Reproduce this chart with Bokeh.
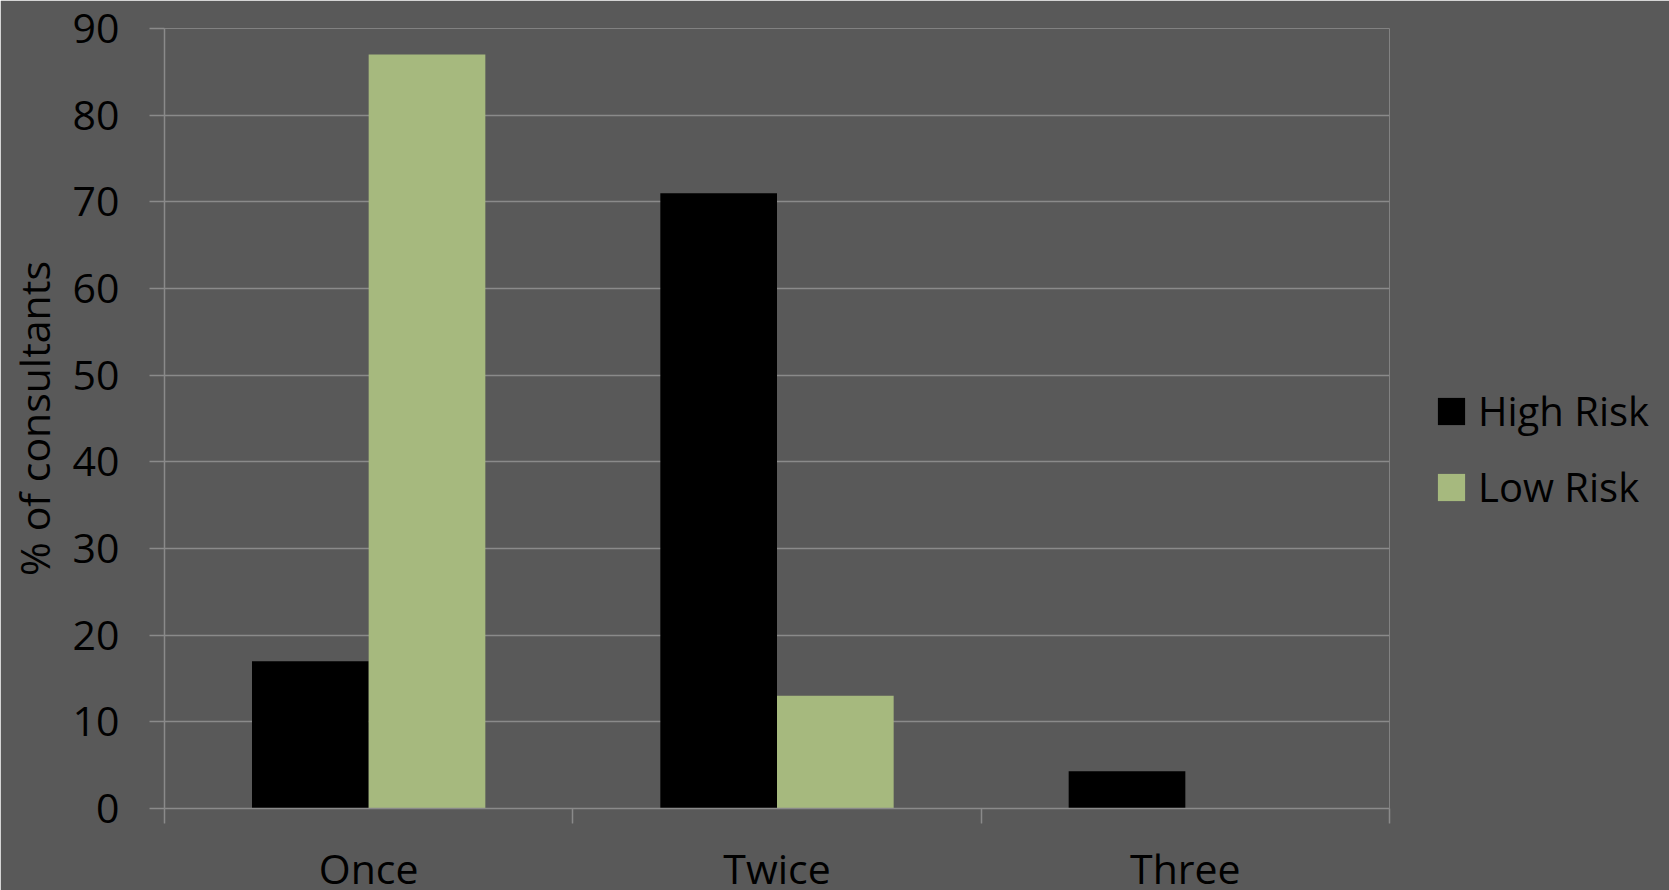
from bokeh.plotting import figure
from bokeh.models import FixedTicker, Legend, LegendItem, ColumnDataSource
from bokeh.embed import file_html
from bokeh.resources import INLINE

# Survey data: how often consultants were seen, by risk group (% of consultants)
categories = ["Once", "Twice", "Three"]
high_risk = [17, 71, 4.3]
low_risk = [87, 13, 0]
y_ticks = [0, 10, 20, 30, 40, 50, 60, 70, 80, 90]

BG = "#595959"
GRID = "#8a8a8a"
GREEN = "#a6b97e"
FONT = "Open Sans"

# each category occupies one unit; two bars with a 150% gap
bar_w = 1 / 3.5
centers = [i + 0.5 for i in range(len(categories))]

src_high = ColumnDataSource(dict(x=[c - bar_w / 2 for c in centers], top=high_risk))
src_low = ColumnDataSource(dict(x=[c + bar_w / 2 for c in centers], top=low_risk))

p = figure(
    frame_width=1225, frame_height=780,
    x_range=(0, len(categories)), y_range=(0, 90),
    output_backend="svg", toolbar_location=None,
    background_fill_color=BG, border_fill_color=BG,
    min_border_left=164, min_border_right=280,
    min_border_top=28, min_border_bottom=82,
)
p.outline_line_color = None

r_high = p.vbar(x="x", top="top", width=bar_w, bottom=0, source=src_high,
                fill_color="black", line_color=None)
r_low = p.vbar(x="x", top="top", width=bar_w, bottom=0, source=src_low,
               fill_color=GREEN, line_color=None)

# y axis
p.yaxis.ticker = FixedTicker(ticks=y_ticks)
p.yaxis.axis_line_color = GRID
p.yaxis.axis_line_width = 1.5
p.yaxis.major_tick_line_color = GRID
p.yaxis.major_tick_line_width = 1.5
p.yaxis.major_tick_out = 15
p.yaxis.major_tick_in = 0
p.yaxis.minor_tick_line_color = None
p.yaxis.major_label_text_font = FONT
p.yaxis.major_label_text_font_size = "41px"
p.yaxis.major_label_text_color = "black"
p.yaxis.major_label_standoff = 30
p.yaxis.axis_label = "% of consultants"
p.yaxis.axis_label_text_font = FONT
p.yaxis.axis_label_text_font_size = "41px"
p.yaxis.axis_label_text_font_style = "normal"
p.yaxis.axis_label_text_color = "black"
p.yaxis.axis_label_standoff = 8

# x axis: labels at category centres, tick marks on category boundaries
p.xaxis.ticker = FixedTicker(ticks=centers, minor_ticks=list(range(len(categories) + 1)))
p.xaxis.major_label_overrides = {c: name for c, name in zip(centers, categories)}
p.xaxis.axis_line_color = GRID
p.xaxis.axis_line_width = 1.5
p.xaxis.major_tick_line_color = None
p.xaxis.major_tick_out = 0
p.xaxis.major_tick_in = 0
p.xaxis.minor_tick_line_color = GRID
p.xaxis.minor_tick_line_width = 1.5
p.xaxis.minor_tick_out = 15
p.xaxis.minor_tick_in = 0
p.xaxis.major_label_text_font = FONT
p.xaxis.major_label_text_font_size = "41px"
p.xaxis.major_label_text_color = "black"
p.xaxis.major_label_standoff = 16

p.xgrid.grid_line_color = None
p.ygrid.ticker = FixedTicker(ticks=y_ticks)
p.ygrid.grid_line_color = GRID
p.ygrid.grid_line_width = 1.5

legend = Legend(
    items=[LegendItem(label="High Risk", renderers=[r_high]),
           LegendItem(label="Low Risk", renderers=[r_low])],
    location=(45, 294),
    background_fill_alpha=0, border_line_color=None,
    padding=0, margin=0, spacing=21,
    glyph_width=34, glyph_height=34, label_standoff=10,
    label_text_font=FONT, label_text_font_size="40px", label_text_color="black",
)
p.add_layout(legend, "right")

open("out.html", "w").write(file_html(p, INLINE))
